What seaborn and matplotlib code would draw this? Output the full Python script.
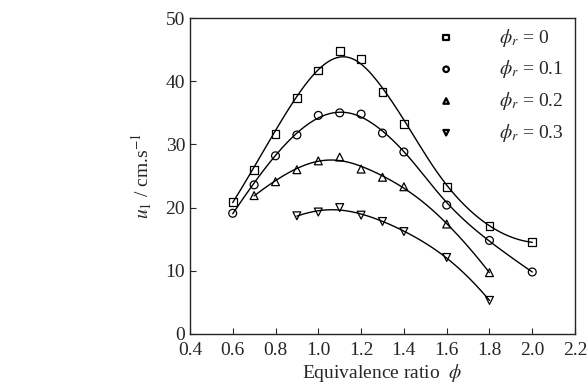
import numpy as np
import pandas as pd
import matplotlib
matplotlib.use('Agg')
import matplotlib.pyplot as plt
import seaborn as sns

# Data
phi_0 = [0.6, 0.7, 0.8, 0.9, 1.0, 1.1, 1.2, 1.3, 1.4, 1.6, 1.8, 2.0]
u_0 = [20.9, 26.0, 31.7, 37.3, 41.7, 44.8, 43.5, 38.3, 33.2, 23.3, 17.1, 14.5]

phi_1 = [0.6, 0.7, 0.8, 0.9, 1.0, 1.1, 1.2, 1.3, 1.4, 1.6, 1.8, 2.0]
u_1 = [19.1, 23.6, 28.2, 31.5, 34.6, 35.0, 34.8, 31.8, 28.8, 20.4, 14.8, 9.8]

phi_2 = [0.7, 0.8, 0.9, 1.0, 1.1, 1.2, 1.3, 1.4, 1.6, 1.8]
u_2 = [21.9, 24.1, 26.0, 27.4, 28.0, 26.1, 24.8, 23.3, 17.4, 9.7]

phi_3 = [0.9, 1.0, 1.1, 1.2, 1.3, 1.4, 1.6, 1.8]
u_3 = [18.7, 19.3, 20.0, 18.8, 17.8, 16.2, 12.1, 5.3]

labels = [r'$\phi_r$ = 0', r'$\phi_r$ = 0.1', r'$\phi_r$ = 0.2', r'$\phi_r$ = 0.3']
markers = ['s', 'o', '^', 'v']

series = [(phi_0, u_0), (phi_1, u_1), (phi_2, u_2), (phi_3, u_3)]


def smooth(x, y, xs, bw=0.16):
    # local quadratic regression with gaussian weights
    x = np.asarray(x, float)
    y = np.asarray(y, float)
    out = []
    for x0 in xs:
        w = np.exp(-0.5 * ((x - x0) / bw) ** 2)
        coef = np.polyfit(x - x0, y, 2, w=np.sqrt(w))
        out.append(coef[-1])
    return np.array(out)


sns.set_style('ticks')
plt.rcParams['font.family'] = ['Liberation Serif', 'DejaVu Serif']
plt.rcParams['mathtext.fontset'] = 'stix'

fig = plt.figure(figsize=(5.88, 3.86), dpi=100)
ax = fig.add_axes([0.323, 0.135, 0.655, 0.818])

for (x, y), lab, m in zip(series, labels, markers):
    df = pd.DataFrame({'phi': x, 'u': y})
    xs = np.linspace(min(x), max(x), 200)
    fit = pd.DataFrame({'phi': xs, 'u': smooth(x, y, xs)})
    sns.lineplot(data=fit, x='phi', y='u', ax=ax, color='black', lw=1.0)
    sns.scatterplot(data=df, x='phi', y='u', ax=ax, marker=m, s=32,
                    facecolor='none', edgecolor='black', linewidth=0.9,
                    label=lab, zorder=3)

ax.set_xlim(0.4, 2.2)
ax.set_ylim(0, 50)
ax.set_xticks(np.arange(0.4, 2.21, 0.2))
ax.set_xticklabels(['0.4', '0.6', '0.8', '1.0', '1.2', '1.4', '1.6', '1.8', '2.0', '2.2'])
ax.set_yticks([0, 10, 20, 30, 40, 50])
ax.tick_params(direction='in', length=4, labelsize=14, width=0.8)
ax.tick_params(axis='x', pad=6)
for s in ax.spines.values():
    s.set_linewidth(1.0)
ax.set_xlabel(r'Equivalence ratio  $\phi$', fontsize=14, labelpad=2)
ax.set_ylabel(r'$u_1$ / cm.s$^{-1}$', fontsize=14, labelpad=8)

leg = ax.legend(loc='upper right', bbox_to_anchor=(1.0, 1.01), frameon=False,
                fontsize=14, markerscale=0.7, handletextpad=2.2,
                labelspacing=0.5, borderaxespad=0.2, handlelength=1.0)
for h in leg.legend_handles:
    h.set_linewidth(1.6)

fig.savefig('out.png', dpi=100)
